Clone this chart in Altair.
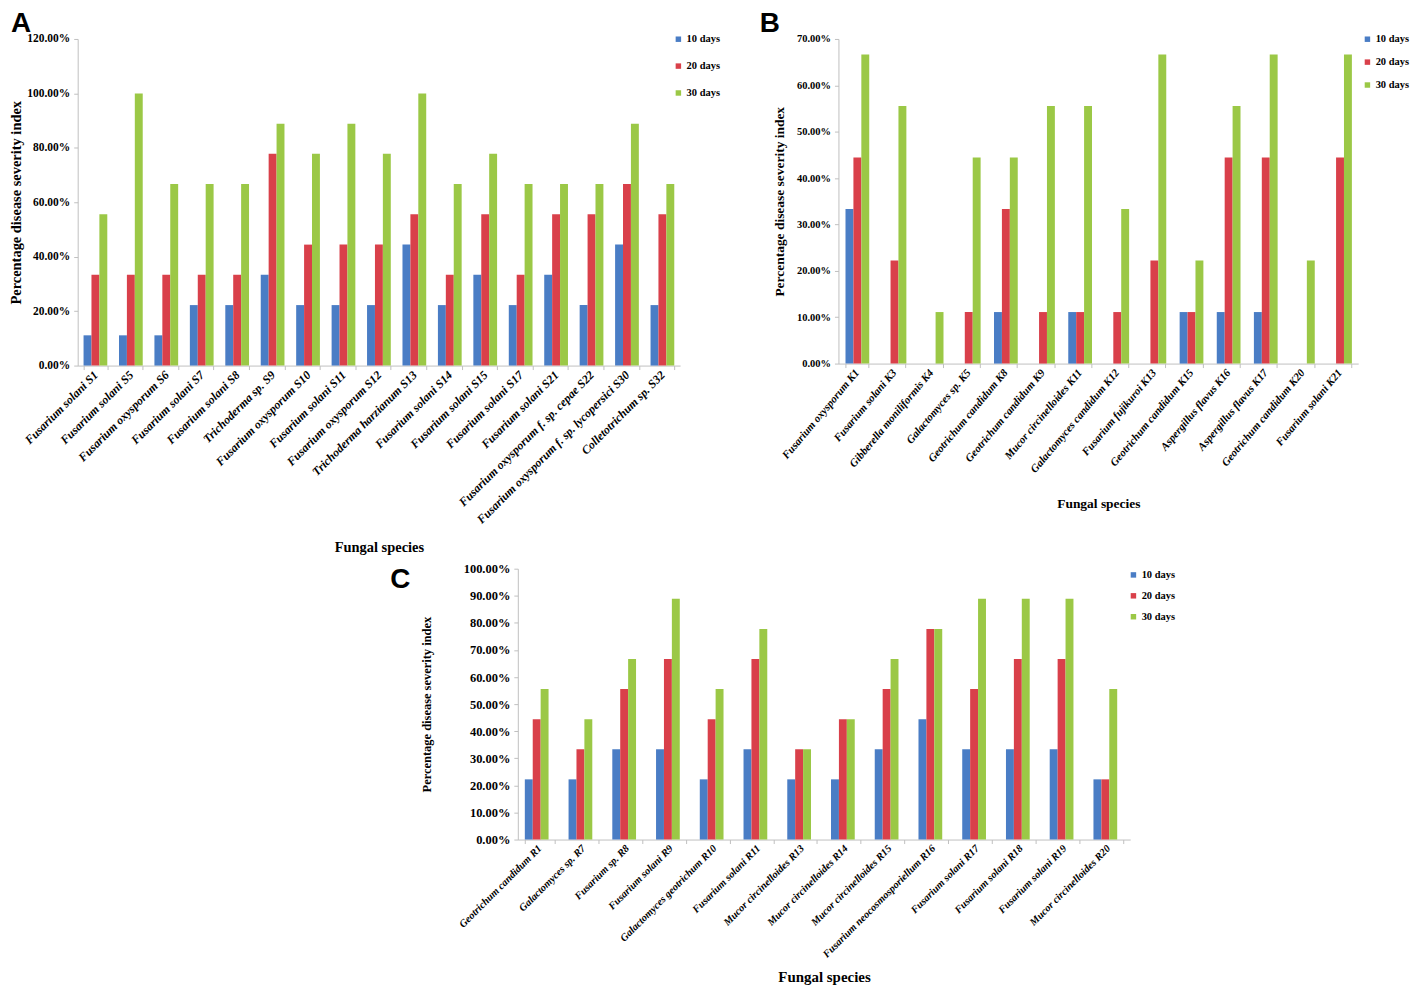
import altair as alt
import pandas as pd

series = ["10 days", "20 days", "30 days"]
colors = ["#4a7dc5", "#d9404a", "#9bc846"]

# Panel A
a_species = ["Fusarium solani S1", "Fusarium solani S5", "Fusarium oxysporum S6", "Fusarium solani S7",
             "Fusarium solani S8", "Trichoderma sp. S9", "Fusarium oxysporum S10", "Fusarium solani S11",
             "Fusarium oxysporum S12", "Trichoderma harzianum S13", "Fusarium solani S14", "Fusarium solani S15",
             "Fusarium solani S17", "Fusarium solani S21", "Fusarium oxysporum f. sp. cepae S22",
             "Fusarium oxysporum f. sp. lycopersici S30", "Colletotrichum sp. S32"]
a_10 = [0.1111, 0.1111, 0.1111, 0.2222, 0.2222, 0.3333, 0.2222, 0.2222, 0.2222, 0.4444, 0.2222, 0.3333, 0.2222, 0.3333, 0.2222, 0.4444, 0.2222]
a_20 = [0.3333, 0.3333, 0.3333, 0.3333, 0.3333, 0.7778, 0.4444, 0.4444, 0.4444, 0.5556, 0.3333, 0.5556, 0.3333, 0.5556, 0.5556, 0.6667, 0.5556]
a_30 = [0.5556, 1.0, 0.6667, 0.6667, 0.6667, 0.8889, 0.7778, 0.8889, 0.7778, 1.0, 0.6667, 0.7778, 0.6667, 0.6667, 0.6667, 0.8889, 0.6667]
a_ticks = [0.0, 0.2, 0.4, 0.6, 0.8, 1.0, 1.2]

# Panel B
b_species = ["Fusarium oxysporum K1", "Fusarium solani K3", "Gibberella moniliformis K4", "Galactomyces sp. K5",
             "Geotrichum candidum K8", "Geotrichum candidum K9", "Mucor circinelloides K11",
             "Galactomyces candidum K12", "Fusarium fujikuroi K13", "Geotrichum candidum K15",
             "Aspergillus flavus K16", "Aspergillus flavus K17", "Geotrichum candidum K20", "Fusarium solani K21"]
b_10 = [0.3333, 0.0, 0.0, 0.0, 0.1111, 0.0, 0.1111, 0.0, 0.0, 0.1111, 0.1111, 0.1111, 0.0, 0.0]
b_20 = [0.4444, 0.2222, 0.0, 0.1111, 0.3333, 0.1111, 0.1111, 0.1111, 0.2222, 0.1111, 0.4444, 0.4444, 0.0, 0.4444]
b_30 = [0.6667, 0.5556, 0.1111, 0.4444, 0.4444, 0.5556, 0.5556, 0.3333, 0.6667, 0.2222, 0.5556, 0.6667, 0.2222, 0.6667]
b_ticks = [0.0, 0.1, 0.2, 0.3, 0.4, 0.5, 0.6, 0.7]

# Panel C
c_species = ["Geotrichum candidum R1", "Galactomyces sp. R7", "Fusarium sp. R8", "Fusarium solani R9",
             "Galactomyces geotrichum R10", "Fusarium solani R11", "Mucor circinelloides R13",
             "Mucor circinelloides R14", "Mucor circinelloides R15", "Fusarium neocosmosporiellum R16",
             "Fusarium solani R17", "Fusarium solani R18", "Fusarium solani R19", "Mucor circinelloides R20"]
c_10 = [0.2222, 0.2222, 0.3333, 0.3333, 0.2222, 0.3333, 0.2222, 0.2222, 0.3333, 0.4444, 0.3333, 0.3333, 0.3333, 0.2222]
c_20 = [0.4444, 0.3333, 0.5556, 0.6667, 0.4444, 0.6667, 0.3333, 0.4444, 0.5556, 0.7778, 0.5556, 0.6667, 0.6667, 0.2222]
c_30 = [0.5556, 0.4444, 0.6667, 0.8889, 0.5556, 0.7778, 0.3333, 0.4444, 0.6667, 0.7778, 0.8889, 0.8889, 0.8889, 0.5556]
c_ticks = [0.0, 0.1, 0.2, 0.3, 0.4, 0.5, 0.6, 0.7, 0.8, 0.9, 1.0]

SERIF = "Liberation Serif"
SANS = "Liberation Sans"
GRAY = "#bfbfbf"


def make_df(species, s10, s20, s30):
    rows = []
    for sp, v1, v2, v3 in zip(species, s10, s20, s30):
        for s, v in zip(series, (v1, v2, v3)):
            rows.append({"species": sp, "series": s, "value": v})
    return pd.DataFrame(rows)


def panel(letter, species, s10, s20, s30, width, height, ymax, yticks, style):
    df = make_df(species, s10, s20, s30)
    pad_inner = style["pad"]
    bars = alt.Chart(df).mark_bar().encode(
        x=alt.X("species:N", sort=species,
                scale=alt.Scale(paddingInner=pad_inner, paddingOuter=pad_inner / 2),
                axis=alt.Axis(title="Fungal species", labelAngle=style["angle"], labelAlign="right",
                              labelBaseline="middle", labelFontStyle="italic", labelOverlap=False,
                              labelLimit=400, tickBand="extent", tickSize=4, labelPadding=3,
                              labelFontSize=style["xlab"], titleFontSize=style["xtitle"],
                              titlePadding=style["xtpad"])),
        xOffset=alt.XOffset("series:N", sort=series),
        y=alt.Y("value:Q", scale=alt.Scale(domain=[0, ymax], nice=False),
                axis=alt.Axis(values=yticks, format=".2%", title="Percentage disease severity index",
                              labelFontSize=style["ylab"], titleFontSize=style["ytitle"],
                              tickSize=4, labelPadding=4, titlePadding=style["ytpad"])),
        color=alt.Color("series:N", sort=series,
                        scale=alt.Scale(domain=series, range=colors),
                        legend=alt.Legend(title=None, orient="none", legendX=style["lx"], legendY=style["ly"],
                                          rowPadding=style["lrow"], symbolType="square", symbolSize=30,
                                          labelFontSize=style["lfs"], labelOffset=3)),
    )
    letter_df = pd.DataFrame({"t": [letter]})
    text = alt.Chart(letter_df).mark_text(
        font=SANS, fontWeight="bold", fontSize=28, align="left", baseline="top", color="black"
    ).encode(text="t:N", x=alt.value(style["tx"]), y=alt.value(style["ty"]))
    return alt.layer(bars, text).properties(width=width, height=height)


style_a = dict(pad=0.33, angle=315, xlab=12, xtitle=14.5, xtpad=15, ylab=11.5, ytitle=14.5, ytpad=3,
               lx=598, ly=-5, lrow=16, lfs=10.5, tx=-67, ty=-29)
style_b = dict(pad=0.38, angle=310, xlab=11, xtitle=13.5, xtpad=22, ylab=10.5, ytitle=13.5, ytpad=10,
               lx=526, ly=-5, lrow=12, lfs=10.5, tx=-79, ty=-29)
style_c = dict(pad=0.32, angle=315, xlab=10.5, xtitle=15, xtpad=10, ylab=12.5, ytitle=12.5, ytpad=30,
               lx=613, ly=1, lrow=10, lfs=10.5, tx=-128, ty=-3)

chart_a = panel("A", a_species, a_10, a_20, a_30, 605, 328, 1.2, a_ticks, style_a)
chart_b = panel("B", b_species, b_10, b_20, b_30, 522, 326, 0.7, b_ticks, style_b)
chart_c = panel("C", c_species, c_10, c_20, c_30, 615, 272, 1.0, c_ticks, style_c)

spacer = alt.Chart(pd.DataFrame({"a": [0]})).mark_point(opacity=0).encode(
    x=alt.value(0), y=alt.value(0)
).properties(width=314, height=10)

top = alt.hconcat(chart_a, chart_b, spacing=39).resolve_scale(color="independent").resolve_legend(color="independent")
bottom = alt.hconcat(spacer, chart_c, spacing=0).resolve_scale(color="independent").resolve_legend(color="independent")

chart = alt.vconcat(top, bottom, spacing=9).resolve_scale(color="independent").resolve_legend(
    color="independent"
).properties(padding=0).configure_view(stroke=None).configure_axis(
    labelFont=SERIF, titleFont=SERIF, labelFontWeight="bold", titleFontWeight="bold",
    labelColor="black", titleColor="black",
    domainColor=GRAY, tickColor=GRAY, grid=False
).configure_legend(
    labelFont=SERIF, labelFontWeight="bold", labelColor="black"
)

chart.save("out.html", embed_options={"renderer": "svg", "actions": False})
